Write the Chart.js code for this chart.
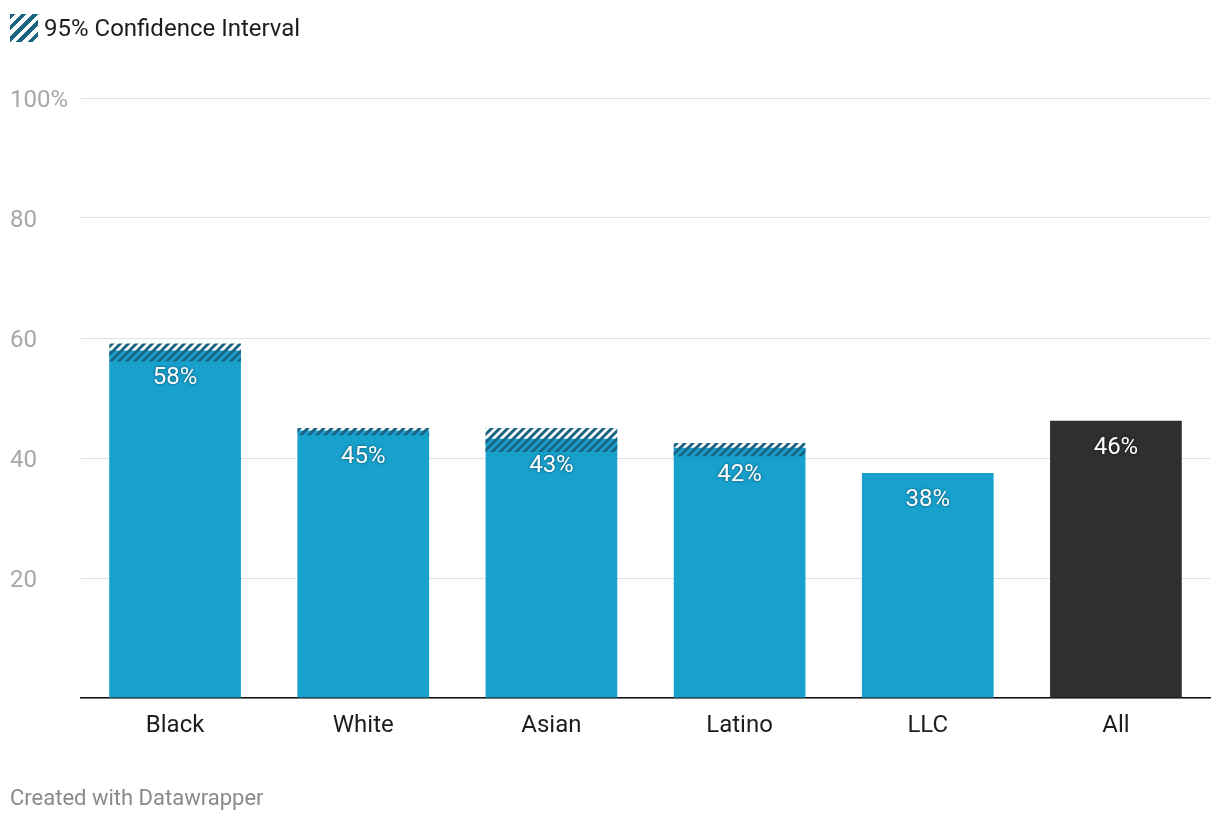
<!DOCTYPE html>
<html>
<head>
<meta charset="utf-8">
<script src="https://cdn.jsdelivr.net/npm/chart.js@4"></script>
<style>
  html, body { margin: 0; padding: 0; background: #fff; }
  body { width: 1220px; height: 820px; position: relative; font-family: Roboto, sans-serif; }
  #chart-wrap { position: absolute; left: 0; top: 0; width: 1220px; height: 820px; }
  .legend { position: absolute; left: 10px; top: 14px; height: 28px; display: flex; align-items: center; font-size: 24px; color: #1d1d1d; }
  .swatch { width: 28px; height: 28px; margin-right: 6px;
    background: repeating-linear-gradient(135deg, #1b6583 0 4px, #fff 4px 8px); }
  .footer { position: absolute; left: 10px; top: 785px; font-size: 22px; color: #8a8a8a; }
</style>
</head>
<body>
<div id="chart-wrap"><canvas id="ci-chart" width="1220" height="820"></canvas></div>
<div class="legend"><span class="swatch"></span>95% Confidence Interval</div>
<div class="footer">Created with Datawrapper</div>
<script>
// data
const categories = ['Black', 'White', 'Asian', 'Latino', 'LLC', 'All'];
const shares = [57.9, 44.6, 43.2, 41.7, 37.5, 46.2];
const ciLow = [56.1, 43.8, 41.0, 40.3, null, null];
const ciHigh = [59.1, 45.0, 45.0, 42.5, null, null];
const yTicks = [0, 20, 40, 60, 80, 100];

const BAR_BLUE = '#18a1cd';
const BAR_ALL = '#2f2f2f';
const HATCH = '#1b6583';

// diagonal hatch pattern for the CI overlay
function makeHatch() {
    const c = document.createElement('canvas');
    c.width = 8; c.height = 8;
    const g = c.getContext('2d');
    g.strokeStyle = HATCH;
    g.lineWidth = 3;
    g.beginPath();
    g.moveTo(-1, 9); g.lineTo(9, -1);
    g.moveTo(-5, 5); g.lineTo(5, -5);
    g.moveTo(3, 13); g.lineTo(13, 3);
    g.stroke();
    return g.createPattern(c, 'repeat');
}

const ctx = document.getElementById('ci-chart').getContext('2d');
const hatch = makeHatch();

// value labels inside the bars
const valueLabels = {
    id: 'valueLabels',
    afterDatasetsDraw(chart) {
        const meta = chart.getDatasetMeta(1);
        const c = chart.ctx;
        c.save();
        c.font = '24px Roboto, sans-serif';
        c.fillStyle = '#fff';
        c.textAlign = 'center';
        c.textBaseline = 'middle';
        c.shadowColor = 'rgba(0,0,0,0.55)';
        c.shadowBlur = 3;
        meta.data.forEach((bar, i) => {
            c.fillText(Math.round(shares[i]) + '%', bar.x, bar.y + 27);
        });
        c.restore();
    }
};

new Chart(ctx, {
    type: 'bar',
    data: {
        labels: categories,
        datasets: [
            {
                label: '95% Confidence Interval',
                data: ciLow.map((lo, i) => lo == null ? null : [lo, ciHigh[i]]),
                backgroundColor: hatch,
                grouped: false,
                order: 0,
                barPercentage: 0.7,
                categoryPercentage: 1.0
            },
            {
                label: 'Share',
                data: shares,
                backgroundColor: categories.map(c => c === 'All' ? BAR_ALL : BAR_BLUE),
                grouped: false,
                order: 1,
                barPercentage: 0.7,
                categoryPercentage: 1.0
            }
        ]
    },
    options: {
        responsive: false,
        animation: false,
        layout: { padding: { top: 98, right: 10, left: 10, bottom: 0 } },
        plugins: { legend: { display: false }, tooltip: { enabled: false } },
        scales: {
            x: {
                grid: { display: false },
                border: { display: true, color: '#111', width: 1.5 },
                ticks: { color: '#1d1d1d', font: { family: 'Roboto', size: 24 }, padding: 6 },
                afterFit(scale) { scale.height = 122; }
            },
            y: {
                min: 0,
                max: 100,
                afterBuildTicks(scale) { scale.ticks = yTicks.map(v => ({ value: v })); },
                grid: { color: '#e0e0e0', lineWidth: 1, drawTicks: false },
                border: { display: false },
                ticks: {
                    color: '#a8a8a8',
                    font: { family: 'Roboto', size: 24 },
                    crossAlign: 'far',
                    padding: 0,
                    labelOffset: 3,
                    callback: v => v === 0 ? '' : (v === 100 ? '100%' : v)
                },
                afterFit(scale) { scale.width = 71; }
            }
        }
    },
    plugins: [valueLabels]
});
</script>
</body>
</html>
